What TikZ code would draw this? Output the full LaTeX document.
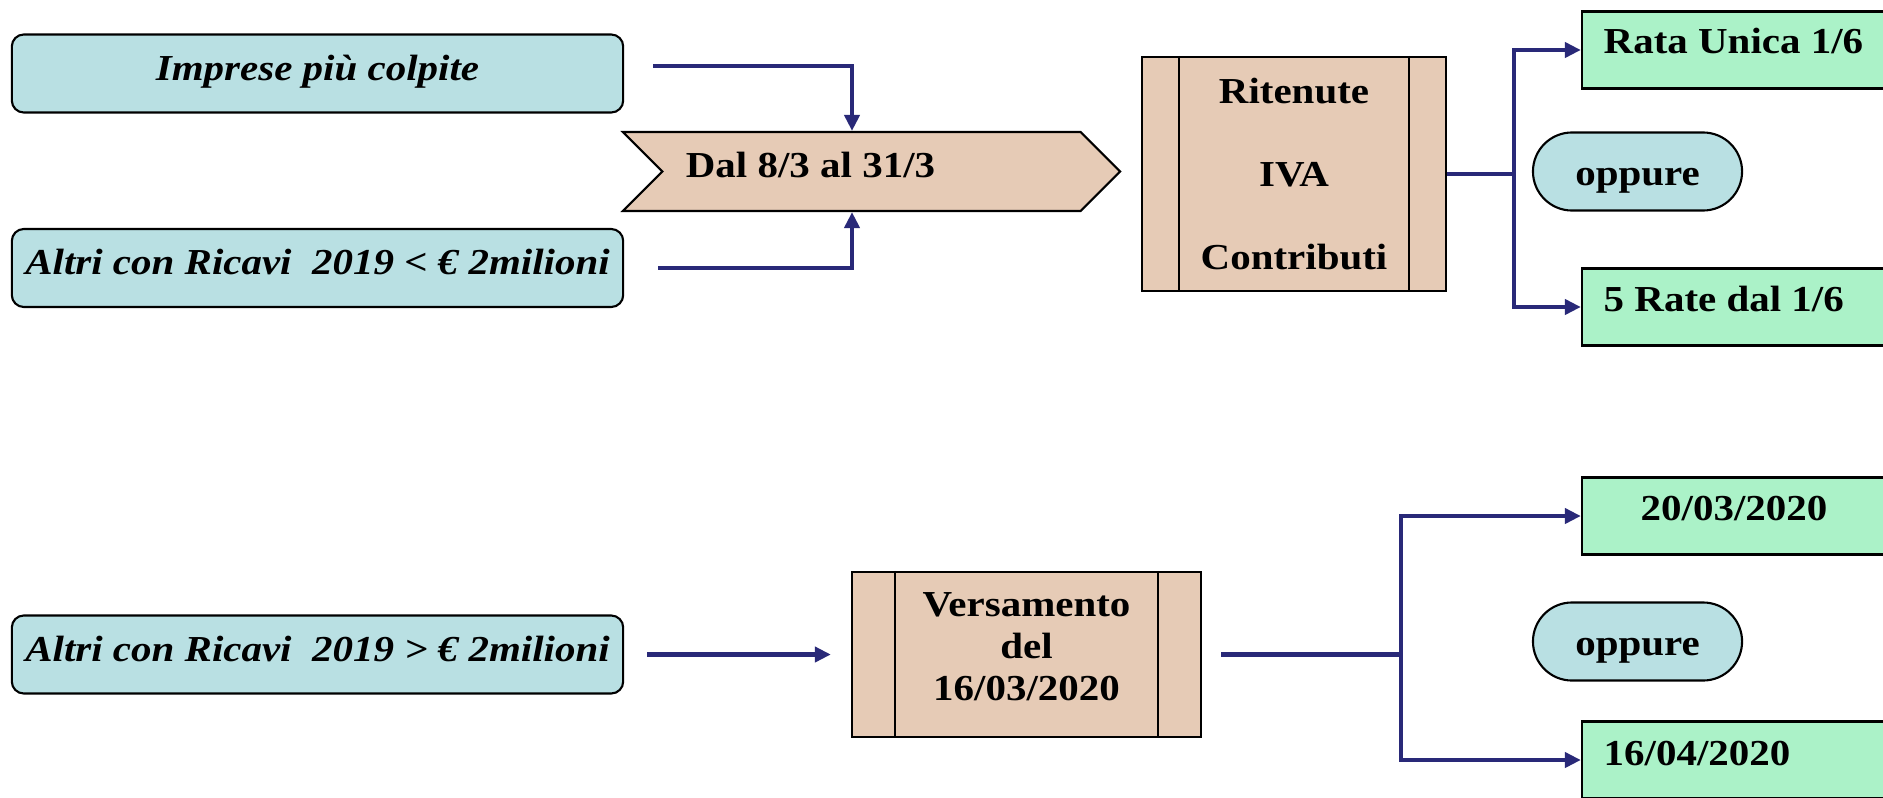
\documentclass[tikz,border=0pt]{standalone}
\usepackage{fontspec}
\setmainfont{Liberation Serif}[FakeStretch=1.12]
\usepackage{xcolor}
\usetikzlibrary{arrows.meta, shapes.symbols, positioning}

\definecolor{peach}{RGB}{230,203,182}
\definecolor{sky}{RGB}{185,224,227}
\definecolor{mint}{RGB}{171,242,200}
\definecolor{navy}{RGB}{41,41,120}

\begin{document}
\begin{tikzpicture}[x=0.01cm, y=-0.01cm,
			>={Triangle[length=0.16cm,width=0.15cm]},
			inner sep=0pt,
			font=\fontsize{10.4}{12.5}\selectfont\bfseries,
			skybox/.style={draw, fill=sky, line width=0.6pt, rounded corners=0.12cm,
				minimum width=6.11cm, minimum height=0.78cm,
				text height=0.68em, text depth=0.3em, font=\fontsize{10.4}{12.5}\selectfont\bfseries\itshape},
			peachbox/.style={draw, fill=peach, line width=0.6pt},
			mintbox/.style={draw, fill=mint, line width=0.6pt, minimum width=3.2cm, minimum height=0.77cm},
			pill/.style={draw, fill=sky, line width=0.6pt, rounded corners=0.39cm,
				minimum width=2.09cm, minimum height=0.78cm, text height=0.8em, text depth=0pt},
			flow/.style={->, navy, line width=1.15pt},
			link/.style={navy, line width=1.15pt}]

			\useasboundingbox (0,0) rectangle (1883,797);
			\clip (0,0) rectangle (1883,797);

			% upper part
			\node[skybox] (imp) at (317.5,73.5) {Imprese più colpite};
			\node[skybox] (alt1) at (317.5,268) {Altri con Ricavi\ \ 2019 < € 2milioni};

			\node[signal, signal to=east, signal from=west, signal pointer angle=90,
				peachbox, minimum width=4.97cm, minimum height=0.79cm] (dal) at (871.5,171.5) {};
			\node[anchor=base] (daltxt) at (810.5,177) {Dal 8/3 al 31/3};

			\node[peachbox, minimum width=3.04cm, minimum height=2.34cm, align=center,
				font=\fontsize{10.4}{23.6}\selectfont\bfseries] (rit) at (1294,174) {Ritenute\\IVA\\Contributi};
			\draw[line width=0.6pt] ([xshift=0.38cm]rit.north west) -- ([xshift=0.38cm]rit.south west);
			\draw[line width=0.6pt] ([xshift=-0.38cm]rit.north east) -- ([xshift=-0.38cm]rit.south east);

			\node[mintbox] (rata) at (1742,50) {};
			\node[anchor=base west] (ratatxt) at (1603,54) {Rata Unica 1/6};
			\node[pill] (opp1) at (1637.5,171.5) {oppure};
			\node[mintbox] (rate) at (1742,307) {};
			\node[anchor=base west] (ratetxt) at (1603,311) {5 Rate dal 1/6};

			\draw[flow, shorten <=0.29cm] (imp.east |- 0,66) -| (dal.north -| 852,0);
			\draw[flow, shorten <=0.34cm] (alt1.east) -| (dal.south -| 852,0);

			\coordinate (fork1) at (rit.east -| 1514,0);
			\draw[link] (rit.east) -- (fork1);
			\draw[flow] (fork1) |- (rata.west);
			\draw[flow] (fork1) |- (rate.west);

			% lower part
			\node[skybox] (alt2) at (317.5,654.5) {Altri con Ricavi\ \ 2019 > € 2milioni};

			\node[peachbox, minimum width=3.49cm, minimum height=1.65cm] (vers) at (1026.5,654.5) {};
			\draw[line width=0.6pt] ([xshift=0.44cm]vers.north west) -- ([xshift=0.44cm]vers.south west);
			\draw[line width=0.6pt] ([xshift=-0.44cm]vers.north east) -- ([xshift=-0.44cm]vers.south east);
			\node[align=center, font=\fontsize{10.4}{11.95}\selectfont\bfseries] (verstxt) at (1026.5,646.5) {Versamento\\del\\16/03/2020};

			\node[mintbox] (d1) at (1742,516) {};
			\node[anchor=base] (d1txt) at (1734,520) {20/03/2020};
			\node[pill] (opp2) at (1637.5,641.5) {oppure};
			\node[mintbox] (d2) at (1742,760) {};
			\node[anchor=base west] (d2txt) at (1603,765) {16/04/2020};

			\draw[flow, shorten <=0.23cm, shorten >=0.2cm] (alt2.east) -- (vers.west);
			\coordinate (fork2) at (vers.east -| 1401,0);
			\draw[link, shorten <=0.19cm] (vers.east) -- (fork2);
			\draw[flow] (fork2) |- (d1.west);
			\draw[flow] (fork2) |- (d2.west);
		\end{tikzpicture}
\end{document}
